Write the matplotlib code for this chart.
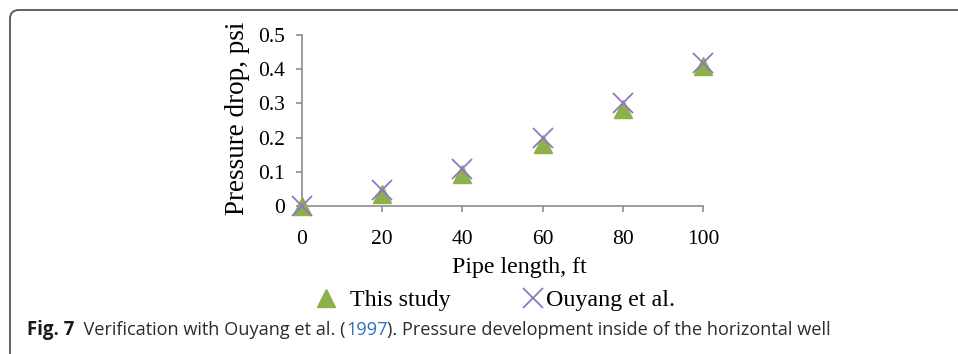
import matplotlib
matplotlib.use("Agg")
import matplotlib.pyplot as plt
from matplotlib.patches import FancyBboxPatch
from matplotlib.transforms import IdentityTransform
from matplotlib.legend import Legend

# Pressure drop along the horizontal well
pipe_length = [0, 20, 40, 60, 80, 100]
this_study = [0.0, 0.035, 0.095, 0.18, 0.285, 0.41]
ouyang = [0.0, 0.048, 0.108, 0.20, 0.30, 0.418]
x_ticks = [0, 20, 40, 60, 80, 100]
y_ticks = [0, 0.1, 0.2, 0.3, 0.4, 0.5]
y_tick_labels = ["0", "0.1", "0.2", "0.3", "0.4", "0.5"]

W, H = 958, 354
fig = plt.figure(figsize=(W / 100, H / 100), dpi=100)
fig.patch.set_facecolor("white")

serif = ["Liberation Serif", "DejaVu Serif"]
axis_grey = "#8c8c8c"
green = "#8db04a"
purple = "#8e78bf"

ax = fig.add_axes([302 / W, 1 - 206 / H, (703 - 302) / W, (206 - 35) / H])
ax.set_xlim(0, 100)
ax.set_ylim(0, 0.5)

l1, = ax.plot(pipe_length, this_study, linestyle="none", marker="^",
              markersize=12.5, color=green, markeredgecolor=green,
              clip_on=False, zorder=3, label="This study")
l2, = ax.plot(pipe_length, ouyang, linestyle="none", marker="x",
              markersize=14, markeredgewidth=1.3, color=purple,
              clip_on=False, zorder=4, label="Ouyang et al.")

for side in ("top", "right"):
    ax.spines[side].set_visible(False)
for side in ("left", "bottom"):
    ax.spines[side].set_color(axis_grey)
    ax.spines[side].set_linewidth(1.2)

ax.set_xticks(x_ticks)
ax.set_yticks(y_ticks)
ax.set_yticklabels(y_tick_labels)
ax.tick_params(axis="both", direction="out", length=4, width=1.2,
               color=axis_grey, labelsize=15.5, labelcolor="black")
ax.tick_params(axis="x", pad=13)
ax.tick_params(axis="y", pad=8)
for lab in ax.get_xticklabels() + ax.get_yticklabels():
    lab.set_fontfamily(serif)

fig.text(237 / W, 1 - 118 / H, "Pressure drop, psi", rotation=90,
         ha="center", va="center", fontsize=19.5, family=serif)
fig.text(519 / W, 1 - 267 / H, "Pipe length, ft", ha="center",
         va="center", fontsize=17.2, family=serif)

# Legend entries below the plot
leg_font = {"family": serif, "size": 17.3}
leg1 = Legend(fig, [l1], ["This study"], loc="center left",
              bbox_to_anchor=(314 / W, 1 - 300 / H), frameon=False,
              prop=leg_font, handlelength=1.0, handletextpad=0.5,
              borderpad=0, borderaxespad=0, numpoints=1)
leg2 = Legend(fig, [l2], ["Ouyang et al."], loc="center left",
              bbox_to_anchor=(521 / W, 1 - 300 / H), frameon=False,
              prop=leg_font, handlelength=1.0, handletextpad=0.05,
              borderpad=0, borderaxespad=0, numpoints=1)
fig.add_artist(leg1)
fig.add_artist(leg2)

# Caption
cap_font = ["Open Sans", "DejaVu Sans"]
cap_y = 1 - 330 / H
t = fig.text(27 / W, cap_y, "Fig. 7", ha="left", va="center",
             fontsize=13.4, fontweight="bold", color="#1a1a1a",
             family=cap_font)
fig.canvas.draw()
r = fig.canvas.get_renderer()
bb = t.get_window_extent(r)
parts = [("  Verification with Ouyang et al. (", "#2b2b2b"),
         ("1997", "#2e6dbf"),
         ("). Pressure development inside of the horizontal well", "#2b2b2b")]
x = bb.x1
for txt, col in parts:
    tt = fig.text(x / W, cap_y, txt, ha="left", va="center",
                  fontsize=13.1, color=col, family=cap_font)
    x = tt.get_window_extent(r).x1

# Panel frame with rounded top-left corner
frame = FancyBboxPatch((10, -40), W + 40, H - 10 + 40,
                       boxstyle="round,pad=0,rounding_size=9",
                       transform=IdentityTransform(), fill=False,
                       edgecolor="#555555", linewidth=1.3)
fig.add_artist(frame)

fig.savefig("out.png", dpi=100)
